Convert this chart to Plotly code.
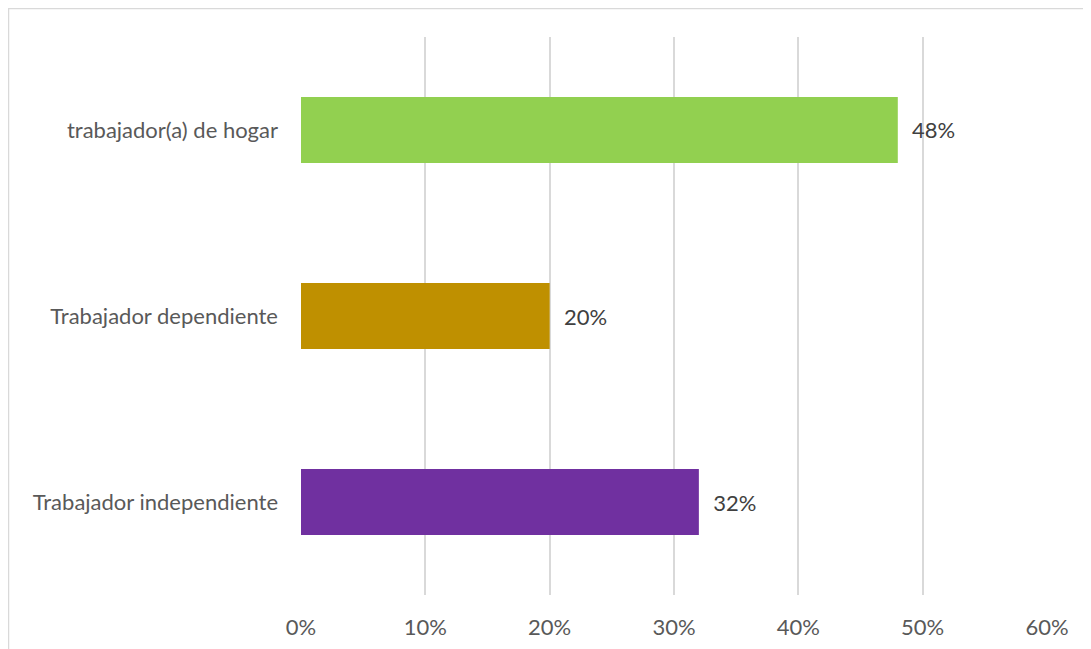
import plotly.graph_objects as go

categories = ["Trabajador independiente", "Trabajador dependiente", "trabajador(a) de hogar"]
values = [0.32, 0.20, 0.48]
colors = ["#7030A0", "#BF9000", "#92D050"]
x_ticks = [0, 0.1, 0.2, 0.3, 0.4, 0.5, 0.6]
x_tick_labels = ["0%", "10%", "20%", "30%", "40%", "50%", "60%"]

W, H = 1091, 649
OFF = 8  # page body margin
L, R, T, B = 301 - OFF, 44 + OFF, 37 - OFF, 54 + OFF
pw, ph = W - L - R, H - T - B
FS = 22

fig = go.Figure(go.Bar(
    y=categories, x=values, orientation="h",
    marker=dict(color=colors, line=dict(width=0)),
    text=["  " + f"{round(v*100)}%" for v in values],
    textposition="outside", cliponaxis=False,
    textfont=dict(color="#404040", size=FS, family="Lato"),
))

fig.update_layout(
    width=W, height=H,
    margin=dict(l=L, r=R, t=T, b=B, pad=0),
    paper_bgcolor="white", plot_bgcolor="white",
    bargap=0.645, showlegend=False,
    font=dict(family="Lato", size=FS, color="#595959"),
    xaxis=dict(range=[0, 0.6], tickvals=x_ticks, ticktext=x_tick_labels,
               showgrid=True, gridcolor="#D9D9D9", gridwidth=1.5,
               zeroline=False, showline=False, ticks="", ticklabelstandoff=17,
               tickfont=dict(size=FS, color="#595959")),
    yaxis=dict(showgrid=False, zeroline=False, showline=False, ticks="",
               ticklabelstandoff=22, tickfont=dict(size=FS, color="#595959")),
    shapes=[dict(type="rect", xref="paper", yref="paper",
                 x0=(0.5 - L) / pw, x1=(W + 20 - L) / pw,
                 y0=-(H + 20 - T - ph) / ph, y1=(H - 0.5 - B) / ph,
                 line=dict(color="#D9D9D9", width=1.5), fillcolor="rgba(0,0,0,0)",
                 layer="below")],
)

fig.write_html("out.html")
